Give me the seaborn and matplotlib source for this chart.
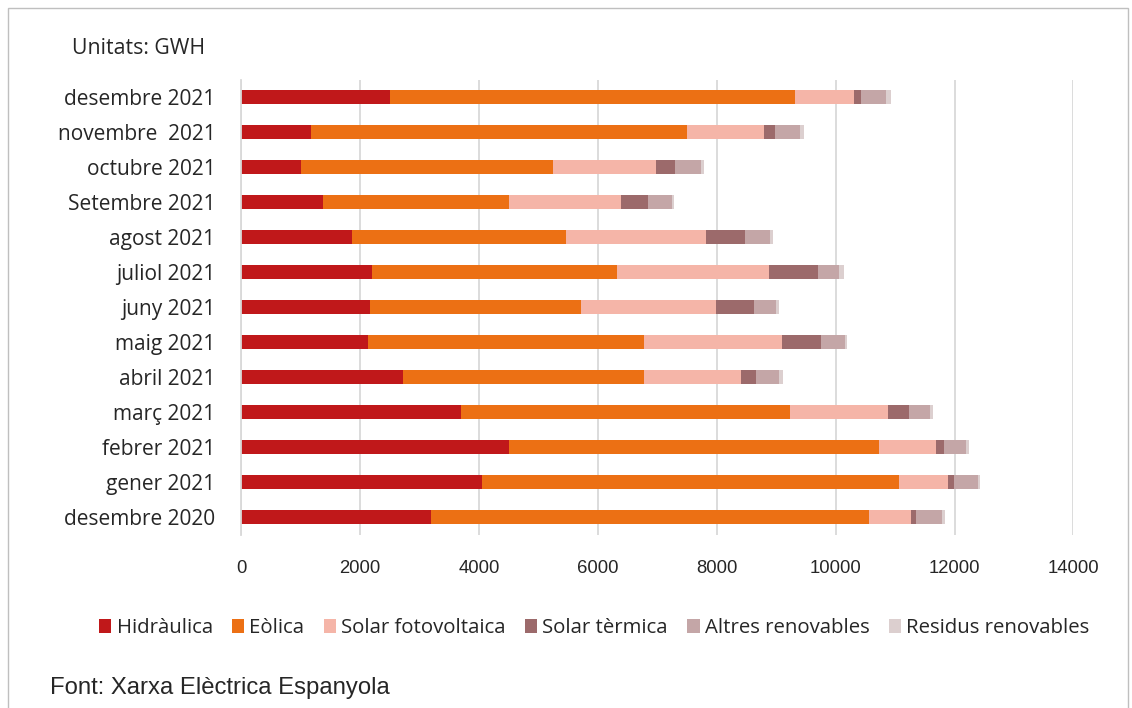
import matplotlib
matplotlib.use("Agg")
import matplotlib.pyplot as plt
from matplotlib.patches import Rectangle, Patch
import seaborn as sns
import pandas as pd
import numpy as np

months = ["desembre 2021", "novembre  2021", "octubre 2021", "Setembre 2021", "agost 2021",
          "juliol 2021", "juny 2021", "maig 2021", "abril 2021", "març 2021",
          "febrer 2021", "gener 2021", "desembre 2020"]
hidraulica = [2513, 1185, 1017, 1387, 1874, 2199, 2165, 2143, 2731, 3706, 4513, 4054, 3190]
eolica = [6812, 6319, 4223, 3121, 3585, 4117, 3546, 4633, 4045, 5524, 6223, 7013, 7373]
solar_fv = [986, 1299, 1731, 1882, 2353, 2566, 2276, 2330, 1631, 1647, 953, 824, 711]
solar_termica = [112, 185, 332, 447, 667, 829, 648, 650, 262, 358, 129, 101, 79]
altres = [421, 420, 425, 408, 409, 353, 365, 404, 381, 353, 375, 398, 432]
residus = [84, 68, 57, 40, 67, 74, 55, 33, 68, 56, 51, 39, 55]

series_names = ["Hidràulica", "Eòlica", "Solar fotovoltaica", "Solar tèrmica",
                "Altres renovables", "Residus renovables"]
colors = ["#C0181A", "#EC7014", "#F5B5A8", "#9C6A6B", "#C4A6A7", "#DCCFCF"]
x_ticks = [0, 2000, 4000, 6000, 8000, 10000, 12000, 14000]

df = pd.DataFrame({"mes": months, "Hidràulica": hidraulica, "Eòlica": eolica,
                   "Solar fotovoltaica": solar_fv, "Solar tèrmica": solar_termica,
                   "Altres renovables": altres, "Residus renovables": residus})
cum = df[series_names].cumsum(axis=1)

sns.set_theme(style="white")
fig = plt.figure(figsize=(11.32, 7.08), dpi=100)
ax = fig.add_axes([0.2129, 0.245, 0.7354, 0.6427])

for name, col in reversed(list(zip(series_names, colors))):
    sns.barplot(x=cum[name], y=df["mes"], orient="h", color=col, width=0.42,
                linewidth=0, saturation=1, ax=ax, order=months)

ax.set_xlim(0, 14000)
ax.set_xticks(x_ticks)
ax.set_xticklabels([str(t) for t in x_ticks], fontsize=13.3, family="Liberation Sans")
ax.tick_params(axis="x", length=0, pad=18)
ax.tick_params(axis="y", length=0, pad=18.5)
for lbl in ax.get_yticklabels():
    lbl.set_fontsize(15)
    lbl.set_family("Open Sans")
ax.set_xlabel("")
ax.set_ylabel("")
ax.grid(axis="x", color="#D9D9D9", linewidth=1.3)
ax.set_axisbelow(True)
for s in ["top", "right", "bottom"]:
    ax.spines[s].set_visible(False)
ax.spines["left"].set_color("#D9D9D9")
ax.spines["left"].set_linewidth(1.3)

handles = [Patch(facecolor=c, edgecolor="none") for c in colors]
fig.legend(handles, series_names, loc="center", bbox_to_anchor=(0.525, 0.113), ncol=6,
           frameon=False, handlelength=0.6, handleheight=0.7, handletextpad=0.25,
           columnspacing=0.95, prop={"family": "Open Sans", "size": 14.7})

fig.text(72 / 1132, 1 - 48 / 708, "Unitats: GWH", fontsize=15.3, family="Open Sans",
         va="center", ha="left")
fig.text(50 / 1132, 1 - 688 / 708, "Font: Xarxa Elèctrica Espanyola", fontsize=17.2,
         family="Liberation Sans", va="center", ha="left")

fig.patches.append(Rectangle((8 / 1132, -0.05), 1120 / 1132, 1.05 - 8 / 708,
                             transform=fig.transFigure, fill=False,
                             edgecolor="#BFBFBF", linewidth=1))

fig.savefig("out.png", dpi=100)
